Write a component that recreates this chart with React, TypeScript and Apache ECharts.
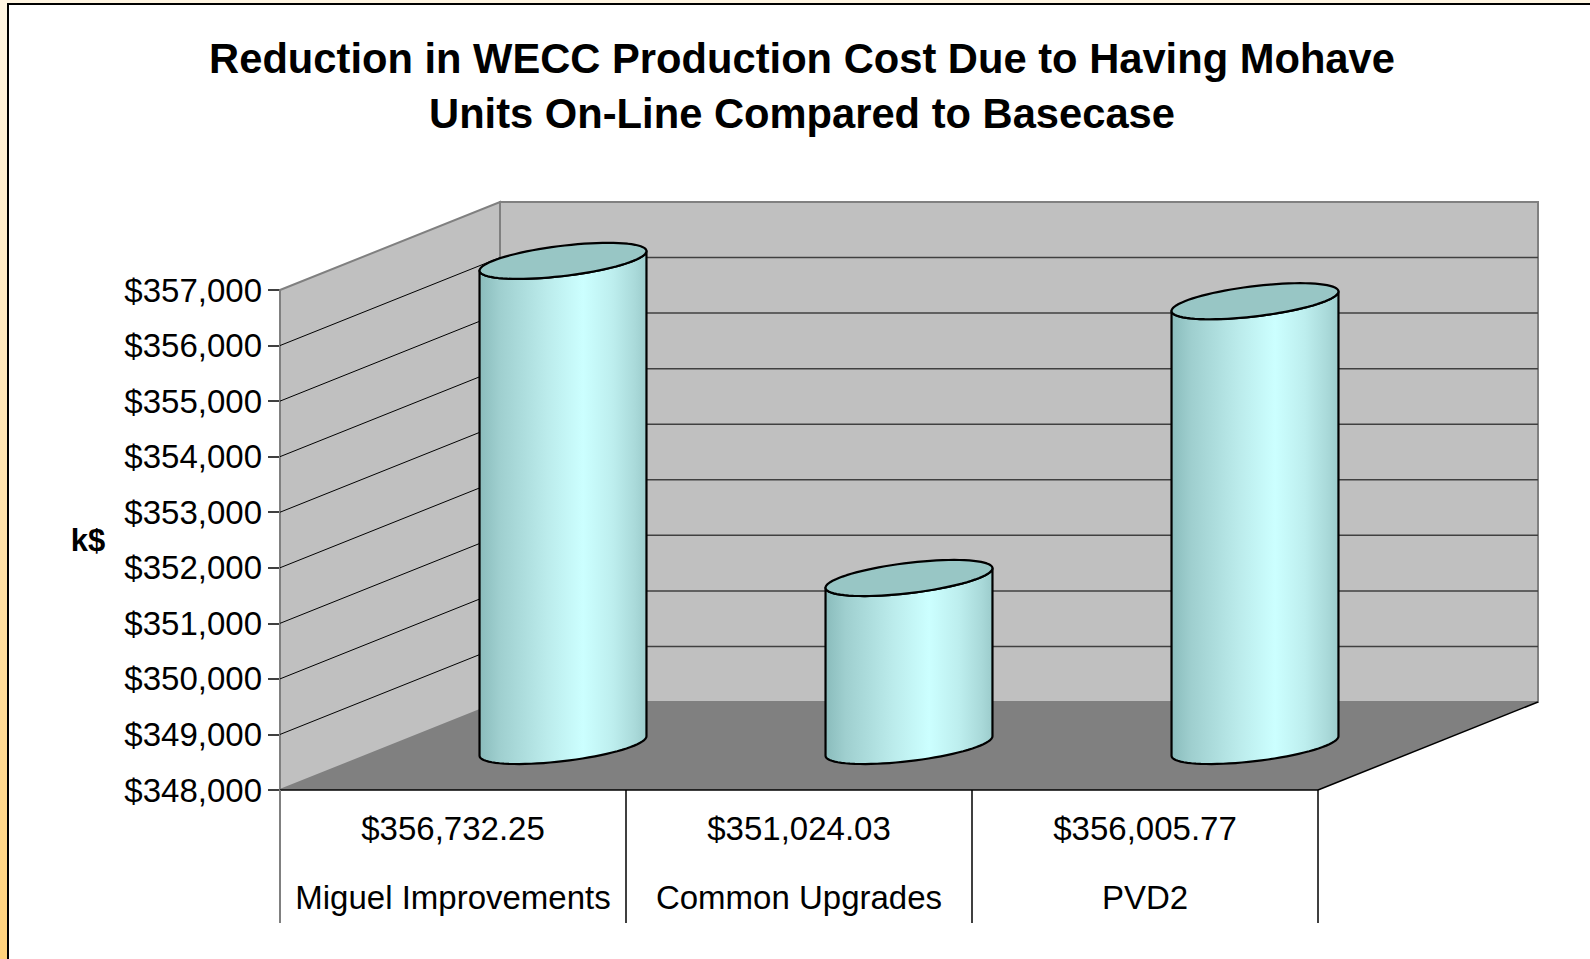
import React, { useEffect, useRef } from "react";
import * as echarts from "echarts";

const TITLE_LINES = [
  "Reduction in WECC Production Cost Due to Having Mohave",
  "Units On-Line Compared to Basecase",
];
const CATEGORIES = ["Miguel Improvements", "Common Upgrades", "PVD2"];
const VALUES = [356732.25, 351024.03, 356005.77];
const VALUE_LABELS = ["$356,732.25", "$351,024.03", "$356,005.77"];
const Y_MIN = 348000;
const Y_MAX = 357000;
const Y_STEP = 1000;
const Y_TICKS = [348000, 349000, 350000, 351000, 352000, 353000, 354000, 355000, 356000, 357000];
const Y_NAME = "k$";

// layout constants (3D depth offset)
const DX = 220;
const DY = -88;
const FONT = "Liberation Sans, Arial, sans-serif";

export default function App() {
  const ref = useRef<HTMLDivElement>(null);

  useEffect(() => {
    if (!ref.current) return;
    const chart = echarts.init(ref.current, null, { renderer: "svg" });

    const wallsRender = (params: any, api: any) => {
      const cs = params.coordSys;
      const x0 = cs.x;
      const x1 = cs.x + cs.width;
      const yTop = api.coord([0, Y_MAX])[1];
      const yBot = api.coord([0, Y_MIN])[1];
      const bw = cs.width / CATEGORIES.length;
      const children: any[] = [
        {
          type: "polygon",
          shape: { points: [[x0, yTop], [x0 + DX, yTop + DY], [x0 + DX, yBot + DY], [x0, yBot]] },
          style: { fill: "#C0C0C0", stroke: "#808080", lineWidth: 2 },
        },
        {
          type: "polygon",
          shape: { points: [[x0 + DX, yTop + DY], [x1 + DX, yTop + DY], [x1 + DX, yBot + DY], [x0 + DX, yBot + DY]] },
          style: { fill: "#C0C0C0", stroke: "#808080", lineWidth: 2 },
        },
        {
          type: "polygon",
          shape: { points: [[x0, yBot], [x1, yBot], [x1 + DX, yBot + DY], [x0 + DX, yBot + DY]] },
          style: { fill: "#808080" },
        },
        {
          type: "line",
          shape: { x1: x1, y1: yBot, x2: x1 + DX, y2: yBot + DY },
          style: { stroke: "#000", lineWidth: 1.5 },
        },
        {
          type: "line",
          shape: { x1: x0, y1: yBot, x2: x1, y2: yBot },
          style: { stroke: "#000", lineWidth: 1.5 },
        },
      ];
      for (let i = 0; i <= CATEGORIES.length; i++) {
        const x = x0 + i * bw;
        children.push({
          type: "line",
          shape: { x1: x, y1: yBot, x2: x, y2: yBot + 133 },
          style: { stroke: i === 0 ? "#808080" : "#000", lineWidth: i === 0 ? 2 : 1.5 },
        });
      }
      return { type: "group", children };
    };

    const gridRender = (params: any, api: any) => {
      const cs = params.coordSys;
      const x0 = cs.x;
      const x1 = cs.x + cs.width;
      const y = api.coord([0, api.value(1)])[1];
      return {
        type: "group",
        children: [
          {
            type: "line",
            shape: { x1: x0, y1: y, x2: x0 + DX, y2: y + DY },
            style: { stroke: "#000", lineWidth: 1 },
          },
          {
            type: "line",
            shape: { x1: x0 + DX, y1: y + DY, x2: x1 + DX, y2: y + DY },
            style: { stroke: "#404040", lineWidth: 1.5 },
          },
        ],
      };
    };

    const cylRender = (params: any, api: any) => {
      const idx = api.value(0);
      const top = api.coord([idx, api.value(1)]);
      const base = api.coord([idx, Y_MIN]);
      const bw = api.size([1, 0])[0];
      const cx = top[0] + DX / 2;
      const cyTop = top[1] + DY / 2;
      const cyBot = base[1] + DY / 2;
      const R = bw * 0.203;
      const k = 0.205;
      const ax = DX * k;
      const ay = DY * k;
      const pt = (cy: number, t: number) => [cx + R * Math.cos(t) + ax * Math.sin(t), cy + ay * Math.sin(t)];
      const tr = Math.atan2(ax, R);
      const N = 40;
      const body: number[][] = [];
      for (let i = 0; i <= N; i++) body.push(pt(cyBot, tr + Math.PI + (Math.PI * i) / N));
      for (let i = N; i >= 0; i--) body.push(pt(cyTop, tr + Math.PI + (Math.PI * i) / N));
      const ell: number[][] = [];
      for (let i = 0; i < 2 * N; i++) ell.push(pt(cyTop, (Math.PI * i) / N));
      return {
        type: "group",
        children: [
          {
            type: "polygon",
            shape: { points: body },
            style: {
              fill: {
                type: "linear",
                x: 0,
                y: 0,
                x2: 1,
                y2: 0,
                colorStops: [
                  { offset: 0, color: "#8ABCBC" },
                  { offset: 0.12, color: "#9FCFCF" },
                  { offset: 0.4, color: "#BBEBEB" },
                  { offset: 0.62, color: "#CCFFFF" },
                  { offset: 0.8, color: "#BDEEEE" },
                  { offset: 0.93, color: "#AADADA" },
                  { offset: 1, color: "#9CCCCC" },
                ],
              },
              stroke: "#000",
              lineWidth: 2.2,
              lineJoin: "round",
            },
          },
          {
            type: "polygon",
            shape: { points: ell },
            style: { fill: "#98C6C5", stroke: "#000", lineWidth: 2.2, lineJoin: "round" },
          },
        ],
      };
    };

    const option: any = {
      animation: false,
      backgroundColor: "transparent",
      title: {
        text: TITLE_LINES.join("\n"),
        left: 802,
        top: 31,
        padding: 0,
        textAlign: "center",
        textStyle: { fontFamily: FONT, fontSize: 41.7, fontWeight: "bold", color: "#000", lineHeight: 55 },
      },
      graphic: [
        {
          type: "rect",
          z: -100,
          shape: { x: 0, y: 0, width: 1590, height: 959 },
          style: {
            fill: {
              type: "linear",
              x: 0,
              y: 0,
              x2: 0,
              y2: 1,
              colorStops: [
                { offset: 0, color: "#FFF5E2" },
                { offset: 1, color: "#FFD27C" },
              ],
            },
          },
        },
        {
          type: "rect",
          z: -99,
          shape: { x: 8, y: 4, width: 1600, height: 980 },
          style: { fill: "#FFFFFF", stroke: "#000", lineWidth: 2 },
        },
        {
          type: "text",
          x: 88,
          y: 540,
          style: {
            text: Y_NAME,
            fontFamily: FONT,
            fontSize: 31,
            fontWeight: "bold",
            fill: "#000",
            align: "center",
            verticalAlign: "middle",
          },
        },
      ],
      grid: { left: 280, top: 290, width: 1038, height: 500, containLabel: false },
      xAxis: [
        {
          type: "category",
          data: CATEGORIES,
          axisLine: { show: false },
          axisTick: { show: false },
          axisLabel: {
            margin: 107,
            fontFamily: FONT,
            fontSize: 33,
            color: "#000",
            lineHeight: 33,
            verticalAlign: "middle",
            interval: 0,
          },
        },
        {
          type: "category",
          position: "bottom",
          data: CATEGORIES,
          axisLine: { show: false },
          axisTick: { show: false },
          axisLabel: {
            margin: 38,
            fontFamily: FONT,
            fontSize: 33,
            color: "#000",
            lineHeight: 33,
            verticalAlign: "middle",
            interval: 0,
            formatter: (_v: string, i: number) => VALUE_LABELS[i],
          },
        },
      ],
      yAxis: {
        type: "value",
        min: Y_MIN,
        max: Y_MAX,
        interval: Y_STEP,
        axisLine: { show: true, lineStyle: { color: "#808080", width: 2 } },
        axisTick: { show: true, length: 12, lineStyle: { color: "#000", width: 1.5 } },
        splitLine: { show: false },
        axisLabel: {
          margin: 18,
          fontFamily: FONT,
          fontSize: 33,
          color: "#000",
          formatter: (v: number) => "$" + v.toLocaleString("en-US"),
        },
      },
      series: [
        {
          type: "custom",
          z: 1,
          renderItem: wallsRender,
          data: [[0, Y_MIN]],
          silent: true,
        },
        {
          type: "custom",
          z: 2,
          renderItem: gridRender,
          data: Y_TICKS.filter((v) => v > Y_MIN && v < Y_MAX).map((v) => [0, v]),
          silent: true,
        },
        {
          type: "custom",
          z: 3,
          renderItem: cylRender,
          data: VALUES.map((v, i) => [i, v]),
        },
      ],
    };

    chart.setOption(option);
    return () => chart.dispose();
  }, []);

  return (
    <div
      ref={ref}
      style={{ position: "absolute", left: 0, top: 0, width: 1590, height: 959 }}
    />
  );
}
